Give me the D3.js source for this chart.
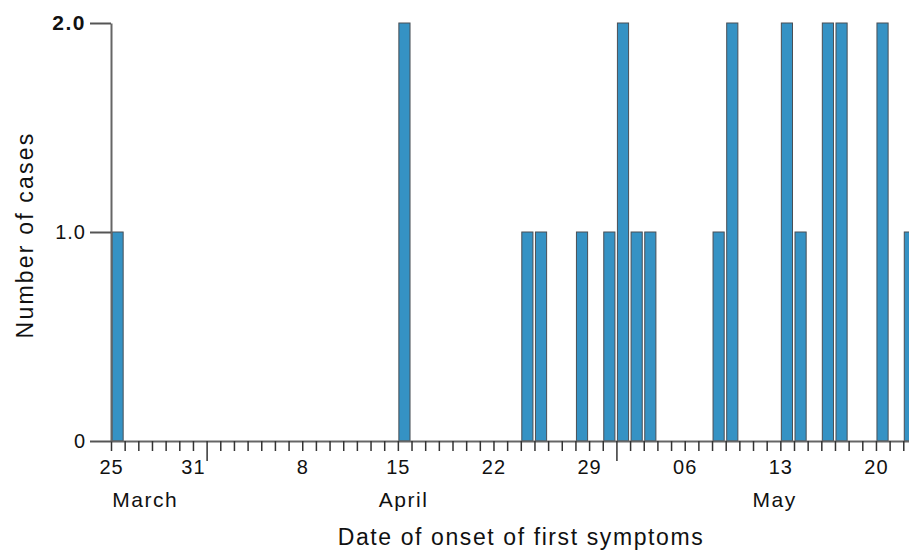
<!DOCTYPE html>
<html>
<head>
<meta charset="utf-8">
<script src="https://cdn.jsdelivr.net/npm/d3@7"></script>
<style>
  html, body { margin: 0; padding: 0; background: #fff; }
  svg { display: block; }
  text { font-family: "Liberation Sans", Arial, Helvetica, sans-serif; fill: #111; }
</style>
</head>
<body>
<svg id="chart" width="909" height="551"></svg>
<script>
// ---- data ----
const onsetDates = ["2020-03-25","2020-04-15","2020-04-24","2020-04-25","2020-04-28","2020-04-30",
  "2020-05-01","2020-05-02","2020-05-03","2020-05-08","2020-05-09","2020-05-13","2020-05-14",
  "2020-05-16","2020-05-17","2020-05-20","2020-05-22"];
const caseCounts = [1,2,1,1,1,1,2,1,1,1,2,2,1,2,2,2,1];
const xTickLabels = ["2020-03-25","2020-03-31","2020-04-08","2020-04-15","2020-04-22","2020-04-29","2020-05-06","2020-05-13","2020-05-20"];
const xTickText = ["25","31","8","15","22","29","06","13","20"];
const monthNames = ["March","April","May"];
const monthAnchors = ["2020-03-27T12:00","2020-04-15T10:00","2020-05-12T14:00"];
const yTicks = [0, 1, 2];
const yTickText = ["0", "1.0", "2.0"];
const xStart = "2020-03-25", xEnd = "2020-05-23";
const xTitle = "Date of onset of first symptoms";
const yTitle = "Number of cases";

(function () {
const parse = s => new Date(s.length > 10 ? s + "Z" : s + "T00:00Z");
const svg = d3.select("#chart");
const mLeft = 111, mTop = 23, mBottom = 441, dayPx = 13.66;

const x = d3.scaleUtc()
  .domain([parse(xStart), parse(xEnd)])
  .range([mLeft, mLeft + dayPx * d3.utcDay.count(parse(xStart), parse(xEnd))]);
const y = d3.scaleLinear().domain([0, 2]).range([mBottom, mTop]);

// bars
const bars = onsetDates.map((d, i) => ({ date: parse(d), n: caseCounts[i] }));
svg.append("g").selectAll("rect").data(bars).join("rect")
  .attr("x", d => x(d.date) + 1)
  .attr("width", d => x(d3.utcDay.offset(d.date, 1)) - x(d.date) - 2.5)
  .attr("y", d => y(d.n))
  .attr("height", d => y(0) - y(d.n))
  .attr("fill", "#3592c4")
  .attr("stroke", "#4a4f55")
  .attr("stroke-width", 1);

// x axis
const labelMap = new Map(xTickLabels.map((d, i) => [+parse(d), xTickText[i]]));
const allDays = d3.utcDay.range(parse(xStart), d3.utcDay.offset(parse(xEnd), 1));
const xAxis = d3.axisBottom(x)
  .tickValues(allDays)
  .tickFormat(d => labelMap.get(+d) || "")
  .tickSize(10).tickSizeOuter(0).tickPadding(9);
const gx = svg.append("g").attr("transform", `translate(0,${mBottom})`).call(xAxis);
gx.select(".domain").attr("stroke", "#666").attr("stroke-width", 2);
gx.selectAll(".tick line").attr("stroke", "#333").attr("stroke-width", 1.5)
  .attr("y2", d => d.getUTCDate() === 1 ? 20 : 10);
gx.selectAll(".tick text").attr("font-size", 20).attr("letter-spacing", 1).attr("fill", "#111");

// month labels
svg.append("g").selectAll("text").data(monthNames).join("text")
  .attr("x", (d, i) => x(parse(monthAnchors[i])))
  .attr("y", 507)
  .attr("text-anchor", "middle")
  .attr("font-size", 21)
  .attr("letter-spacing", 1.5)
  .text(d => d);

// y axis
const yAxis = d3.axisLeft(y)
  .tickValues(yTicks)
  .tickFormat((d, i) => yTickText[i])
  .tickSize(21).tickSizeOuter(0).tickPadding(4);
const gy = svg.append("g").attr("transform", `translate(${mLeft},0)`).call(yAxis);
gy.select(".domain").attr("stroke", "#666").attr("stroke-width", 2);
gy.selectAll(".tick line").attr("stroke", "#555").attr("stroke-width", 2);
gy.selectAll(".tick text").attr("font-size", d => d === 2 ? 21 : 20)
  .attr("letter-spacing", d => d === 2 ? 1.5 : 1).attr("fill", "#111")
  .attr("font-weight", d => d === 2 ? "bold" : "normal");

// titles
svg.append("text")
  .attr("x", 521).attr("y", 545)
  .attr("text-anchor", "middle")
  .attr("font-size", 23).attr("letter-spacing", 1.6)
  .text(xTitle);
svg.append("text")
  .attr("transform", "translate(33,235) rotate(-90)")
  .attr("text-anchor", "middle")
  .attr("font-size", 23).attr("letter-spacing", 2.2)
  .text(yTitle);
})();
</script>
</body>
</html>
